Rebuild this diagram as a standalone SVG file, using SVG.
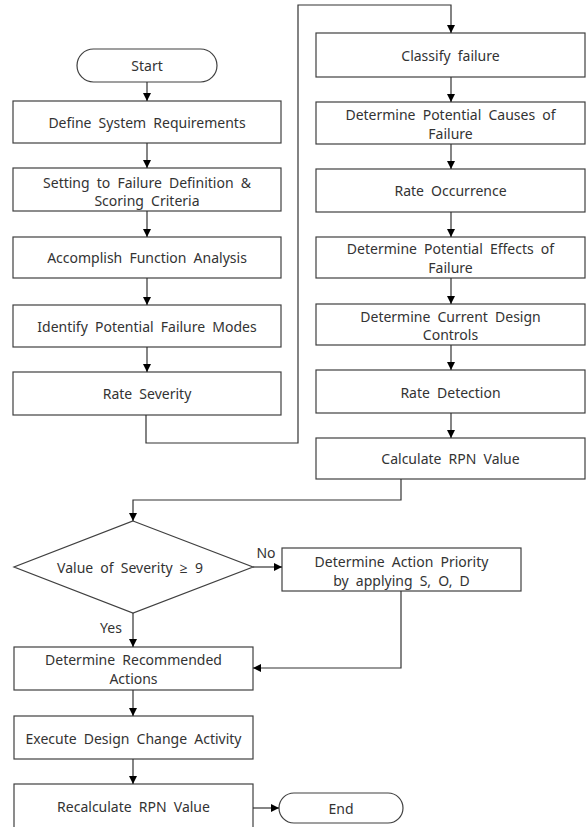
<svg xmlns="http://www.w3.org/2000/svg" width="587" height="827" viewBox="0 0 587 827">
<defs>
<marker id="ah" viewBox="0 0 10 10" refX="10" refY="5" markerWidth="8" markerHeight="8" markerUnits="userSpaceOnUse" orient="auto">
<path d="M0,0 L10,5 L0,10 z" fill="#000"/>
</marker>
<style>
.b{fill:#fff;stroke:#404040;stroke-width:1.2}
.t{font-family:"Noto Sans","Open Sans",sans-serif;font-size:14px;fill:#333;text-anchor:middle;dominant-baseline:central;word-spacing:3.5px}
.c{fill:none;stroke:#333;stroke-width:1.2;marker-end:url(#ah)}
</style>
</defs>
<rect width="587" height="827" fill="#fff"/>
<g id="start"><rect class="b" x="77" y="49" width="140" height="33" rx="16.5"/><text class="t" x="147" y="65">Start</text></g>
<g id="n1"><rect class="b" x="13" y="101" width="268" height="42"/><text class="t" x="147" y="122">Define System Requirements</text></g>
<g id="n2"><rect class="b" x="13" y="168" width="268" height="43"/><text class="t" x="147" y="182">Setting to Failure Definition &amp;</text><text class="t" x="147" y="200">Scoring Criteria</text></g>
<g id="n3"><rect class="b" x="13" y="237" width="268" height="41"/><text class="t" x="147" y="257.5">Accomplish Function Analysis</text></g>
<g id="n4"><rect class="b" x="13" y="305" width="268" height="42"/><text class="t" x="147" y="326">Identify Potential Failure Modes</text></g>
<g id="n5"><rect class="b" x="13" y="372" width="268" height="43"/><text class="t" x="147" y="393">Rate Severity</text></g>
<g id="n6"><rect class="b" x="316" y="33" width="269" height="44"/><text class="t" x="450.5" y="55">Classify failure</text></g>
<g id="n7"><rect class="b" x="316" y="102" width="269" height="42"/><text class="t" x="450.5" y="114">Determine Potential Causes of</text><text class="t" x="450.5" y="133">Failure</text></g>
<g id="n8"><rect class="b" x="316" y="169" width="269" height="43"/><text class="t" x="450.5" y="190">Rate Occurrence</text></g>
<g id="n9"><rect class="b" x="316" y="237" width="269" height="41"/><text class="t" x="450.5" y="248">Determine Potential Effects of</text><text class="t" x="450.5" y="267">Failure</text></g>
<g id="n10"><rect class="b" x="316" y="304" width="269" height="41"/><text class="t" x="450.5" y="316">Determine Current Design</text><text class="t" x="450.5" y="334">Controls</text></g>
<g id="n11"><rect class="b" x="316" y="370" width="269" height="43"/><text class="t" x="450.5" y="392">Rate Detection</text></g>
<g id="n12"><rect class="b" x="316" y="438" width="269" height="41"/><text class="t" x="450.5" y="458">Calculate RPN Value</text></g>
<g id="d1"><polygon class="b" points="133,521 253,567 133,613 14,567"/><text class="t" x="130" y="567">Value of Severity ≥ 9</text></g>
<g id="n13"><rect class="b" x="282" y="548" width="239" height="43"/><text class="t" x="401.5" y="561">Determine Action Priority</text><text class="t" x="401.5" y="580">by applying S, O, D</text></g>
<g id="n14"><rect class="b" x="14" y="647" width="239" height="43"/><text class="t" x="133.5" y="659">Determine Recommended</text><text class="t" x="133.5" y="678">Actions</text></g>
<g id="n15"><rect class="b" x="14" y="716" width="239" height="43"/><text class="t" x="133.5" y="738">Execute Design Change Activity</text></g>
<g id="n16"><rect class="b" x="14" y="784" width="239" height="44"/><text class="t" x="133.5" y="806">Recalculate RPN Value</text></g>
<g id="end"><rect class="b" x="279" y="793" width="124" height="30" rx="15"/><text class="t" x="341" y="808">End</text></g>
<g id="connectors">
<path class="c" d="M147,82 V101"/>
<path class="c" d="M147,143 V168"/>
<path class="c" d="M147,211 V237"/>
<path class="c" d="M147,278 V305"/>
<path class="c" d="M147,347 V372"/>
<path class="c" d="M146,415 V443 H298 V5 H451 V33"/>
<path class="c" d="M451,77 V102"/>
<path class="c" d="M451,144 V169"/>
<path class="c" d="M451,212 V237"/>
<path class="c" d="M451,278 V304"/>
<path class="c" d="M451,345 V370"/>
<path class="c" d="M451,413 V438"/>
<path class="c" d="M401,479 V500 H133 V521"/>
<path class="c" d="M253,567 H282"/>
<path class="c" d="M133,613 V647"/>
<path class="c" d="M401,591 V668 H253"/>
<path class="c" d="M133,690 V716"/>
<path class="c" d="M133,759 V784"/>
<path class="c" d="M253,808 H279"/>
<text class="t" x="266" y="552">No</text>
<text class="t" x="111" y="627">Yes</text>
</g>
</svg>
